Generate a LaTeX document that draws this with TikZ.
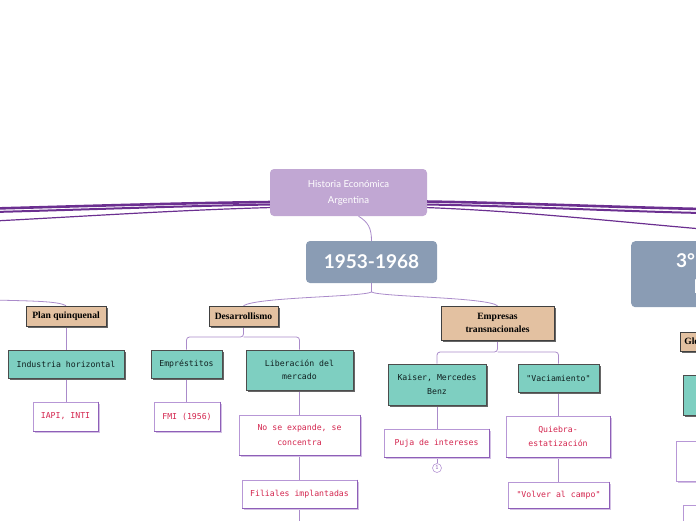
\documentclass[tikz,border=0pt]{standalone}
\usepackage{fontspec}
\newfontfamily\latof{Lato}
\newfontfamily\serifb{Liberation Serif}
\newfontfamily\monof{DejaVu Sans Mono}
\usetikzlibrary{shadows,backgrounds}
\definecolor{rootc}{HTML}{C1A7D3}
\definecolor{perc}{HTML}{8A9CB4}
\definecolor{tanc}{HTML}{E3C1A1}
\definecolor{tealc}{HTML}{7ECFC1}
\definecolor{leafb}{HTML}{B797D6}
\definecolor{leafdk}{HTML}{8E5FB8}
\definecolor{leafsh}{HTML}{D3C0E4}
\definecolor{leaft}{HTML}{D4264F}
\definecolor{mainl}{HTML}{6B2F90}
\definecolor{connc}{HTML}{AA8BCA}
\definecolor{darkt}{HTML}{102020}
\tikzset{
  rootbox/.style={fill=rootc, rounded corners=4pt, text=white, align=center, inner sep=0pt,
    font=\latof\fontsize{9.6}{16}\selectfont},
  periodbox/.style={fill=perc, rounded corners=4pt, text=white, align=center, inner sep=0pt,
    font=\latof\bfseries\fontsize{19}{22}\selectfont},
  tanbox/.style={fill=tanc, draw=black!75, line width=0.7pt, align=center, inner sep=0pt,
    font=\serifb\bfseries\fontsize{9.6}{13.5}\selectfont,
    drop shadow={shadow xshift=2pt, shadow yshift=-2pt, fill=black!60, opacity=1}},
  tealbox/.style={fill=tealc, draw=black!70, line width=0.7pt, align=center, inner sep=0pt,
    text=darkt, font=\monof\fontsize{8.2}{13.5}\selectfont,
    drop shadow={shadow xshift=2pt, shadow yshift=-2pt, fill=black!60, opacity=1}},
  leafbox/.style={fill=white, draw=leafb, line width=0.8pt, align=center, inner sep=0pt,
    text=leaft, font=\monof\fontsize{8.2}{14.5}\selectfont,
    drop shadow={shadow xshift=2pt, shadow yshift=-2pt, fill=leafsh, opacity=1}},
  conn/.style={draw=connc, line width=0.8pt},
  mainln/.style={draw=mainl, line cap=round},
}
\begin{document}
\begin{tikzpicture}[x=1pt,y=-1pt]
\useasboundingbox (0,0) rectangle (696,520);

% main bundled lines
\coordinate (la1) at (272,202); \coordinate (lb1) at (-6,208.5);
\coordinate (la2) at (272,204.5); \coordinate (lb2) at (-6,212);
\coordinate (la3) at (272,207.5); \coordinate (lb3) at (-6,221);
\coordinate (ra1) at (425,201.5); \coordinate (rb1) at (702,209);
\coordinate (ra2) at (425,204.5); \coordinate (rb2) at (702,213);
\coordinate (ra3) at (425,207.5); \coordinate (rb3) at (702,229);
\draw[mainln, line width=2.6pt] (la1) .. controls (180,203) and (90,206) .. (lb1);
\draw[mainln, line width=2pt] (la2) .. controls (180,206) and (90,209.5) .. (lb2);
\draw[mainln, line width=1.2pt] (la3) .. controls (180,210) and (90,216) .. (lb3);
\draw[mainln, line width=2.6pt] (ra1) .. controls (520,203) and (610,207) .. (rb1);
\draw[mainln, line width=2pt] (ra2) .. controls (520,206) and (610,211) .. (rb2);
\draw[mainln, line width=1.2pt] (ra3) .. controls (520,211) and (610,221) .. (rb3);

% root and periods
\node[rootbox, minimum width=157pt, minimum height=47pt] (root) at (348.5,192.5) {Historia Económica\\Argentina};
\node[periodbox, minimum width=131pt, minimum height=42pt] (p1) at (371.5,262) {1953-1968};
\node[periodbox, minimum width=140pt, minimum height=66pt, anchor=north west] (p3) at (631,241) {};
\node[font=\latof\bfseries\fontsize{19}{22}\selectfont, text=white, anchor=base west, inner sep=0pt] (p3a) at (676,267) {3°};
\node[font=\latof\bfseries\fontsize{19}{22}\selectfont, text=white, anchor=base west, inner sep=0pt] (p3b) at (693.5,293) {I};

% level 3
\node[tanbox, minimum width=80pt, minimum height=20pt] (planq) at (66,316) {Plan quinquenal};
\node[tanbox, minimum width=69pt, minimum height=20pt] (desa) at (243.5,316) {Desarrollismo};
\node[tanbox, minimum width=113pt, minimum height=34pt] (empr) at (497.5,323) {Empresas\\transnacionales};
\node[tanbox, minimum width=80pt, minimum height=19pt, anchor=west, text width=76pt, align=left, inner xsep=4pt] (glo) at (680,341.5) {Globalización};

% level 4
\node[tealbox, minimum width=116pt, minimum height=28pt] (indh) at (66,364) {Industria horizontal};
\node[tealbox, minimum width=71pt, minimum height=28pt] (empres) at (186.5,364) {Empréstitos};
\node[tealbox, minimum width=107pt, minimum height=40pt] (lib) at (299.5,370) {Liberación del\\mercado};
\node[tealbox, minimum width=98pt, minimum height=41pt] (kais) at (437,384.5) {Kaiser, Mercedes\\Benz};
\node[tealbox, minimum width=81pt, minimum height=28pt] (vaci) at (558.5,378) {"Vaciamiento"};
\node[tealbox, minimum width=60pt, minimum height=40pt, anchor=north west] (rteal) at (683,375) {};

% level 5
\node[leafbox, minimum width=65pt, minimum height=29pt] (iapi) at (65.5,416.5) {IAPI, INTI};
\node[leafbox, minimum width=66pt, minimum height=29pt] (fmi) at (187,416.5) {FMI (1956)};
\node[leafbox, minimum width=121pt, minimum height=40pt] (noexp) at (299.5,435) {No se expande, se\\concentra};
\node[leafbox, minimum width=115pt, minimum height=28pt] (fil) at (299.5,494) {Filiales implantadas};
\node[leafbox, minimum width=105pt, minimum height=28pt] (puja) at (436.5,443) {Puja de intereses};
\node[leafbox, minimum width=104pt, minimum height=41pt] (quie) at (558,436.5) {Quiebra-\\estatización};
\node[leafbox, minimum width=101pt, minimum height=26pt] (volv) at (558.5,495) {"Volver al campo"};
\node[leafbox, minimum width=60pt, minimum height=40pt, anchor=north west] (rleaf1) at (676,441) {};
\node[leafbox, minimum width=60pt, minimum height=30pt, anchor=north west] (rleaf2) at (683,505) {};

\foreach \n in {iapi,fmi,noexp,fil,puja,quie,volv}{
  \draw[leafdk, line width=0.8pt] (\n.north east) -- (\n.south east) -- (\n.south west);
}

\node[circle, draw=leafb, line width=0.6pt, fill=white, minimum size=9pt, inner sep=0pt,
  text=leafdk, font=\latof\fontsize{5.5}{6}\selectfont] (c1) at (437,468) {1};

% connectors
\begin{scope}[on background layer]
\coordinate (split) at (371.5,292);
\coordinate (offpq) at (-6,300);
\coordinate (dsplit) at (243.5,337);
\coordinate (esplit) at (497.5,352);
\coordinate (filend) at (299.5,525);
\draw[conn] ([xshift=10pt]root.south) .. controls (368,222) and (371.5,228) .. (p1.north);
\draw[conn] (p1.south) -- (split);
\draw[conn] (split) .. controls (362,297) and (258,297) .. (desa.north);
\draw[conn] (split) .. controls (381,297) and (485,297) .. (empr.north);
\draw[conn] (offpq) .. controls (30,301) and (58,301) .. (planq.north);
\draw[conn] (planq.south) -- (indh.north);
\draw[conn] (indh.south) -- (iapi.north -| indh.south);
\draw[conn, rounded corners=3pt] (desa.south) -- (dsplit) -| (empres.north);
\draw[conn, rounded corners=3pt] (dsplit) -| (lib.north);
\draw[conn] (empres.south) -- (fmi.north -| empres.south);
\draw[conn] (lib.south) -- (noexp.north);
\draw[conn] (noexp.south) -- (fil.north);
\draw[conn] (fil.south) -- (filend);
\draw[conn, rounded corners=3pt] (empr.south) -- (esplit) -| (kais.north);
\draw[conn, rounded corners=3pt] (esplit) -| (vaci.north);
\draw[conn] (kais.south) -- (puja.north -| kais.south);
\draw[conn] (puja.south -| c1.north) -- (c1.north);
\draw[conn] (vaci.south) -- (quie.north -| vaci.south);
\draw[conn] (quie.south -| vaci.south) -- (volv.north -| vaci.south);
\end{scope}
\end{tikzpicture}
\end{document}
